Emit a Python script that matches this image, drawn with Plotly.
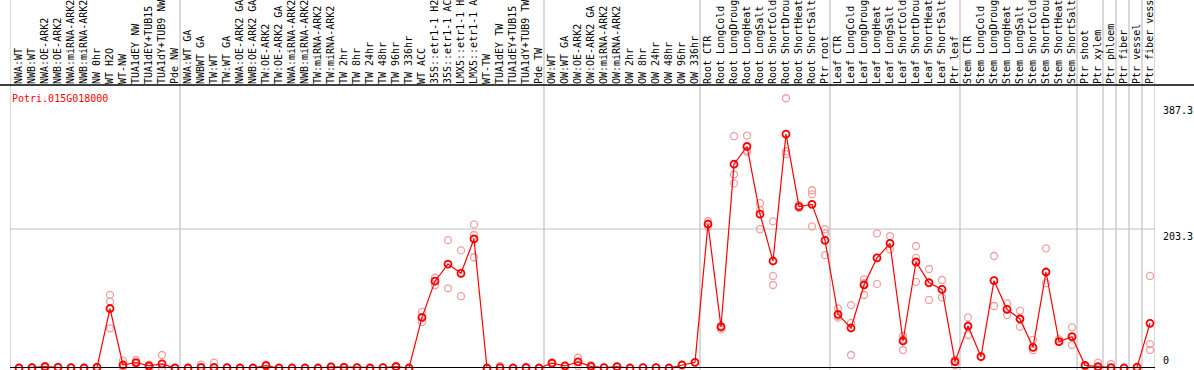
import plotly.graph_objects as go

categories = [
    "NWA:WT", "NWB:WT", "NWA:OE-ARK2", "NWB:OE-ARK2", "NWA:miRNA-ARK2", "NWB:miRNA-ARK2",
    "NW 0hr", "WT H2O", "WT-NW", "TUA1dEY NW", "TUA1dEY+TUB15", "TUA1dY+TUB9 NW", "Pde NW",
    "NWA:WT GA", "NWBWT GA", "TW:WT", "TW:WT GA", "NWA:OE-ARK2 GA", "NWB:OE-ARK2 GA",
    "TW:OE-ARK2", "TW:OE-ARK2 GA", "NWA:miRNA-ARK2", "NWB:miRNA-ARK2", "TW:miRNA-ARK2",
    "TW:miRNA-ARK2", "TW 2hr", "TW 8hr", "TW 24hr", "TW 48hr", "TW 96hr", "TW 336hr", "WT ACC",
    "35S::etr1-1 H2O", "35S::etr1-1 ACC", "LMX5::etr1-1 H2O", "LMX5::etr1-1 ACC", "WT-TW",
    "TUA1dEY TW", "TUA1dEY+TUB15", "TUA1dY+TUB9 TW", "Pde TW",
    "OW:WT", "OW:WT GA", "OW:OE-ARK2", "OW:OE-ARK2 GA", "OW:miRNA-ARK2", "OW:miRNA-ARK2",
    "OW 2hr", "OW 8hr", "OW 24hr", "OW 48hr", "OW 96hr", "OW 336hr",
    "Root CTR", "Root LongCold", "Root LongDrought", "Root LongHeat", "Root LongSalt",
    "Root ShortCold", "Root ShortDrought", "Root ShortHeat", "Root ShortSalt", "Ptr root",
    "Leaf CTR", "Leaf LongCold", "Leaf LongDrought", "Leaf LongHeat", "Leaf LongSalt",
    "Leaf ShortCold", "Leaf ShortDrought", "Leaf ShortHeat", "Leaf ShortSalt", "Ptr leaf",
    "Stem CTR", "Stem LongCold", "Stem LongDrought", "Stem LongHeat", "Stem LongSalt",
    "Stem ShortCold", "Stem ShortDrought", "Stem ShortHeat", "Stem ShortSalt",
    "Ptr shoot", "Ptr xylem", "Ptr phloem", "Ptr fiber", "Ptr vessel", "Ptr fiber vessel",
]

mean_values = [
    0, 0.5, 2, 1, 0.5, 0, 1, 87, 4.4, 8, 3, 6, 0,
    0, 1, 1, 0.5, 0, 0, 3.5, 0, 0, 0, 0, 1.5, 1, 0.5, 0, 0.5, 2, 0,
    74, 127, 152, 138.5, 188.7, 0, 0.5, 0, 0.5, 0,
    7, 3, 9, 2.5, 0.5, 2, 0, 0.5, 0.5, 0, 4.4, 8.3,
    210.6, 60, 298, 324, 225, 156.5, 342, 236, 239.4, 186.7,
    78.5, 58.5, 121.4, 161, 182.3, 39.5, 155, 124.8, 115, 9.3,
    61.4, 16.6, 127.7, 85.8, 71.7, 30.2, 140.4, 38.5, 45.8,
    3.9, 2, 0.5, 0, 1, 65.4,
]

replicates = [
    [0, 0.5], [0.5, 1], [3, 1], [1, 2], [0.5, 0], [0, 0], [1, 2], [107, 97, 58],
    [10.7, 2, 1], [11.7, 6, 7], [5, 2, 1], [19, 0, 0], [0, 0],
    [0, 0], [5, 0], [7.8, 0], [0.5, 0], [0], [0], [5, 3], [0], [0], [0], [0],
    [2, 1], [1.5, 0.5], [1], [0], [1], [3, 1], [0],
    [82, 67, 74], [132, 121, 127], [187, 116.6, 152], [172, 105, 138.5],
    [210, 194.5, 162], [0], [3, 0], [0], [2, 0], [0],
    [8, 6], [3, 2], [15, 9, 3], [4, 1], [0.5], [2, 1], [0], [0.5], [0.5], [0], [4.4], [8.3],
    [215, 206.7, 210], [56.6, 60, 62], [339, 283, 270], [340, 316, 318], [241, 231, 203],
    [214.5, 134.6, 121.4], [394.5, 317, 313], [236, 234, 238], [260, 254, 207],
    [203, 197, 165],
    [87, 73.6, 76], [92, 66, 19], [129.7, 106.8, 124], [197, 123, 161], [193, 173.6, 182],
    [46.8, 26.3, 42], [178.4, 161, 126], [144.8, 124, 99.5], [128.7, 103.4, 115],
    [4.4, 12, 9],
    [74, 48.3, 61], [16.6, 17], [163.8, 90.7, 128], [94.6, 77.5, 86], [83.8, 60.4, 72],
    [41, 30, 26], [175, 124, 140], [42, 38], [59.5, 33.6, 45],
    [3.9, 2], [7.8, 0], [5.8, 0], [0], [2, 1], [134.6, 35, 26.3],
]

group_sizes = [13, 28, 12, 10, 10, 9]
extra_dividers = ["Ptr xylem", "Ptr phloem", "Ptr fiber", "Ptr vessel", "Ptr fiber vessel"]
gene_id = "Potri.015G018000"
y_ticks = [387.3, 203.3, 0]

FONT = "DejaVu Sans Mono"
W, H = 1194, 370
L, R, T, B = 10, 39, 85, 2
n = len(categories)
x_idx = list(range(n))

rep_x, rep_y = [], []
for i, reps in enumerate(replicates):
    for v in reps:
        rep_x.append(i)
        rep_y.append(v)

fig = go.Figure()
fig.add_trace(go.Scatter(
    x=rep_x, y=rep_y, mode="markers",
    marker=dict(symbol="circle-open", size=7, color="#f0a0a0", line=dict(width=1.3, color="#f0a0a0")),
    cliponaxis=False, hoverinfo="skip", showlegend=False,
))
fig.add_trace(go.Scatter(
    x=x_idx, y=mean_values, mode="lines+markers",
    line=dict(color="#ff0000", width=1.2),
    marker=dict(symbol="circle-open", size=7, color="#ff0000", line=dict(width=1.8, color="#ff0000")),
    cliponaxis=False, showlegend=False,
))

# column scale: 13 px per column, first center at pixel 19
x_lo = -(19 - L) / 13.0
x_hi = x_lo + (W - L - R) / 13.0
y_hi = (368 - T) / ((368 - 229) / 203.3)

shapes = []
div_positions = [x_lo]
acc = 0
for g in group_sizes:
    acc += g
    div_positions.append(acc - 1 + 5 / 13.0)
for name in extra_dividers:
    div_positions.append(categories.index(name) + 5 / 13.0)
top_paper = 1 + T / (H - T - B)
for xp in div_positions:
    shapes.append(dict(type="line", xref="x", yref="paper", x0=xp, x1=xp, y0=-0.05, y1=top_paper + 0.02,
                       line=dict(color="#c0c0c0", width=1.2), layer="below"))
shapes.append(dict(type="line", xref="paper", yref="y", x0=0, x1=1, y0=203.3, y1=203.3,
                   line=dict(color="#c0c0c0", width=1.2), layer="below"))
shapes.append(dict(type="line", xref="paper", yref="paper", x0=-L / (W - L - R) - 0.01,
                   x1=1 + R / (W - L - R) + 0.01, y0=1, y1=1, line=dict(color="black", width=1.5)))
shapes.append(dict(type="line", xref="paper", yref="y", x0=0, x1=1, y0=0, y1=0,
                   line=dict(color="black", width=2)))

annotations = [dict(xref="paper", yref="paper", x=0, y=1, yshift=-6, xanchor="left", yanchor="top",
                    text=gene_id, showarrow=False, font=dict(family=FONT, size=10, color="#ff0000"))]
for v in y_ticks:
    annotations.append(dict(xref="paper", yref="y", x=1, xshift=6, y=v, xanchor="left",
                            yanchor="bottom" if v == 0 else "top", text=f"{v:g}", showarrow=False,
                            font=dict(family=FONT, size=10, color="black")))

fig.update_layout(
    width=W, height=H, margin=dict(l=L, r=R, t=T, b=B),
    paper_bgcolor="white", plot_bgcolor="white",
    shapes=shapes, annotations=annotations,
    xaxis=dict(range=[x_lo, x_hi], side="top", tickmode="array", tickvals=x_idx, ticktext=categories,
               tickangle=-90, tickfont=dict(family=FONT, size=10, color="black"), showgrid=False,
               zeroline=False, showline=False, ticks="", automargin=False, fixedrange=True),
    yaxis=dict(range=[0, y_hi], showgrid=False, zeroline=False, showticklabels=False, showline=False,
               automargin=False, fixedrange=True),
)

fig.write_html("out.html", config={"displayModeBar": False},
               post_script="document.body.style.margin='0';document.body.style.overflow='hidden';")
